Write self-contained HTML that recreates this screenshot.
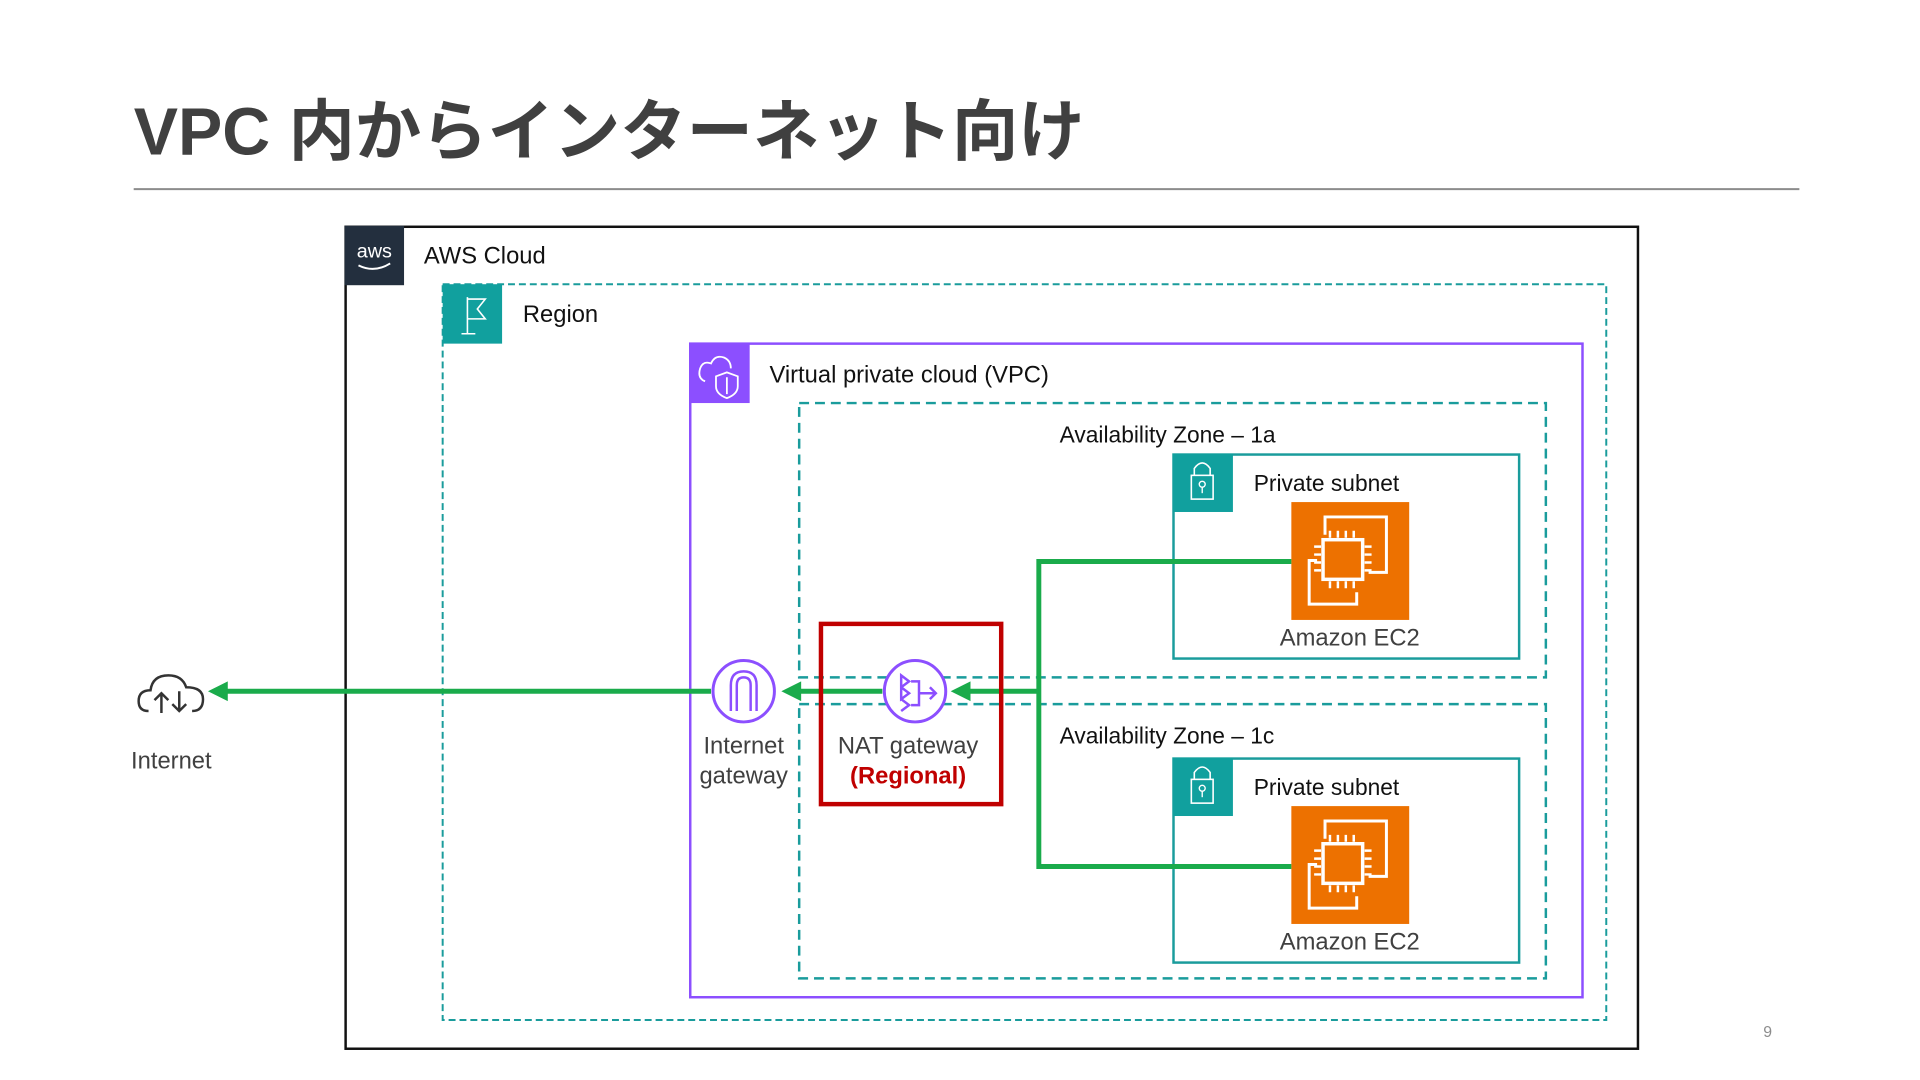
<!DOCTYPE html>
<html><head><meta charset="utf-8"><style>
html,body{margin:0;padding:0;background:#fff}
svg{display:block}
text{font-family:"Liberation Sans","Noto Sans CJK JP",sans-serif}
</style></head><body>
<svg width="1920" height="1080" viewBox="0 0 1920 1080" xmlns="http://www.w3.org/2000/svg">
<g transform="scale(0.9903)">
<text x="135" y="156" font-size="67" font-weight="bold" fill="#404040" style='font-family:"Liberation Sans","Noto Sans CJK JP",sans-serif'>VPC 内からインターネット向け</text>
<line x1="135" y1="191" x2="1817" y2="191" stroke="#8c8c8c" stroke-width="2"/>

<rect x="349" y="229" width="1305" height="830" fill="none" stroke="#111" stroke-width="2.5"/>
<rect x="348" y="228" width="60" height="60" fill="#232f3e"/>
<text x="378" y="260" font-size="20" fill="#fff" text-anchor="middle">aws</text>
<path d="M362 268 Q378 276 394 266" stroke="#fff" stroke-width="2" fill="none"/>
<text x="428" y="266" font-size="24" fill="#111">AWS Cloud</text>

<rect x="447" y="287" width="1175" height="743" fill="none" stroke="#1a9c9c" stroke-width="2" stroke-dasharray="7,4"/>
<rect x="447" y="287" width="60" height="60" fill="#11a09e"/>
<path d="M466 337 H480 M472 337 V300 M472 302 L490 302 L482 312 L490 322 L472 322" stroke="#fff" stroke-width="1.6" fill="none"/>
<text x="528" y="325" font-size="24" fill="#111">Region</text>

<rect x="697" y="347" width="901" height="660" fill="none" stroke="#8c4fff" stroke-width="2.5"/>
<rect x="696" y="346" width="61" height="61" fill="#8c4fff"/>
<path d="M712 385 Q704 382 707 372 Q710 364 718 367 Q722 358 731 361 Q738 364 738 372" stroke="#fff" stroke-width="1.8" fill="none"/>
<path d="M734 376 L745 380 V390 Q745 398 734 402 Q723 398 723 390 V380 Z M734 381 V398" stroke="#fff" stroke-width="1.8" fill="none"/>
<text x="777" y="386" font-size="24" fill="#111">Virtual private cloud (VPC)</text>

<rect x="807" y="407" width="754" height="277" fill="none" stroke="#1a9c9c" stroke-width="2.5" stroke-dasharray="10,6"/>
<text x="1070" y="447" font-size="23" fill="#111">Availability Zone – 1a</text>
<rect x="807" y="711" width="754" height="277" fill="none" stroke="#1a9c9c" stroke-width="2.5" stroke-dasharray="10,6"/>
<text x="1070" y="751" font-size="23" fill="#111">Availability Zone – 1c</text>

<g id="sub">
<rect x="1185" y="459" width="349" height="206" fill="none" stroke="#1a9c9c" stroke-width="2.5"/>
<rect x="1184" y="458" width="61" height="59" fill="#11a09e"/>
<path d="M1206 480 V473 Q1214 462 1222 473 V480" stroke="#fff" stroke-width="1.6" fill="none"/>
<rect x="1203" y="480" width="22" height="24" fill="none" stroke="#fff" stroke-width="1.6"/>
<circle cx="1214" cy="489" r="3" fill="none" stroke="#fff" stroke-width="1.4"/>
<line x1="1214" y1="492" x2="1214" y2="498" stroke="#fff" stroke-width="1.4"/>
<text x="1266" y="496" font-size="23" fill="#111">Private subnet</text>
<rect x="1304" y="507" width="119" height="119" fill="#ed7100"/>
<path d="M1338 540 V522 H1400 V578 H1382" stroke="#fff" stroke-width="3" fill="none"/>
<path d="M1330 566 H1322 V610 H1370 V598" stroke="#fff" stroke-width="3" fill="none"/>
<rect x="1336" y="545" width="40" height="40" fill="none" stroke="#fff" stroke-width="3.5"/>
<g stroke="#fff" stroke-width="2.5">
<path d="M1343 536 V543 M1351 536 V543 M1359 536 V543 M1367 536 V543 M1343 587 V594 M1351 587 V594 M1359 587 V594 M1367 587 V594 M1327 552 H1334 M1327 560 H1334 M1327 568 H1334 M1327 576 H1334 M1378 552 H1385 M1378 560 H1385 M1378 568 H1385 M1378 576 H1385"/>
</g>
<text x="1363" y="652" font-size="24" fill="#404040" text-anchor="middle">Amazon EC2</text>
</g>
<use href="#sub" y="307"/>

<g stroke="#1aab4b" stroke-width="5" fill="none">
<path d="M1304 567 H1049 V875 H1304"/>
<line x1="1049" y1="698" x2="975" y2="698"/>
<line x1="891" y1="698" x2="805" y2="698"/>
<line x1="718" y1="698" x2="225" y2="698"/>
</g>
<g fill="#1aab4b">
<path d="M960 698 L980 688 L980 708 Z"/>
<path d="M789 698 L809 688 L809 708 Z"/>
<path d="M210 698 L230 688 L230 708 Z"/>
</g>

<rect x="829" y="630" width="182" height="182" fill="none" stroke="#c00000" stroke-width="4.5"/>
<circle cx="924" cy="698" r="31" fill="#fff" stroke="#8c4fff" stroke-width="3"/>
<g stroke="#8c4fff" stroke-width="2.5" fill="none">
<path d="M910 682 L918 688 L910 694 Z M910 694 L918 700 L910 706 Z M910 706 L918 712 L910 718"/>
<path d="M920 688 H928 V712 H920 M928 700 H944 M939 694 L945 700 L939 706"/>
</g>
<text x="917" y="761" font-size="24" fill="#404040" text-anchor="middle">NAT gateway</text>
<text x="917" y="791" font-size="24" font-weight="bold" fill="#c00000" text-anchor="middle">(Regional)</text>

<circle cx="751" cy="698" r="31" fill="#fff" stroke="#8c4fff" stroke-width="3"/>
<path d="M738 718 V692 Q738 678 751 678 Q764 678 764 692 V718 M744 718 V692 Q744 684 751 684 Q758 684 758 692 V718" stroke="#8c4fff" stroke-width="2.5" fill="none"/>
<text x="751" y="761" font-size="24" fill="#404040" text-anchor="middle">Internet</text>
<text x="751" y="791" font-size="24" fill="#404040" text-anchor="middle">gateway</text>

<path d="M150 718 Q140 718 140 708 Q140 697 152 697 Q154 682 170 682 Q184 682 188 694 Q205 694 205 706 Q205 718 194 718" stroke="#333" stroke-width="2.5" fill="none"/>
<path d="M163 720 V700 M156 707 L163 700 L170 707 M181 698 V718 M174 711 L181 718 L188 711" stroke="#333" stroke-width="2.5" fill="none"/>
<text x="173" y="776" font-size="24" fill="#404040" text-anchor="middle">Internet</text>

<text x="1785" y="1047" font-size="16" fill="#8c8c8c" text-anchor="middle">9</text>
</g>
</svg>
</body></html>
